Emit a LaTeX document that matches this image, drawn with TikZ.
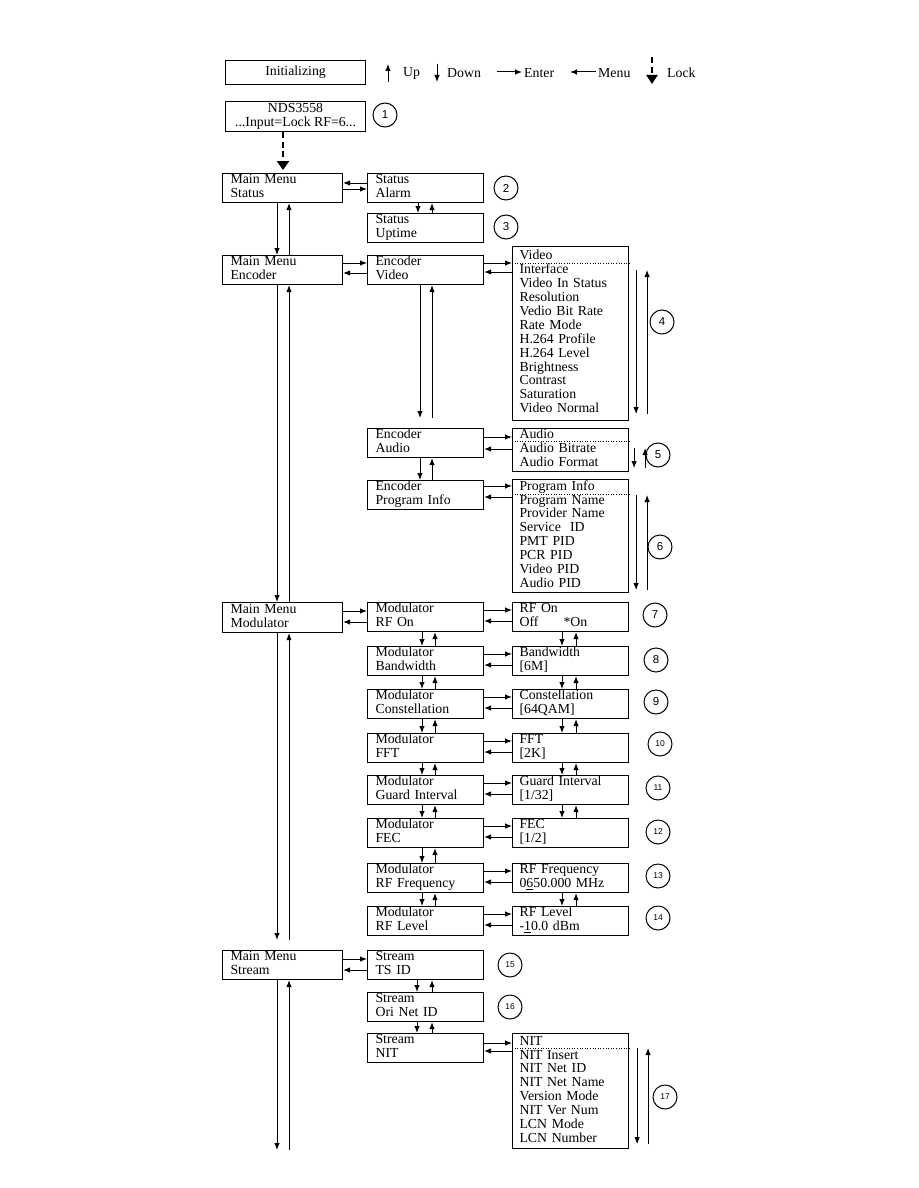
\documentclass[tikz,border=0pt]{standalone}
\usepackage{fontspec}
\setmainfont{Liberation Serif}
\newfontfamily\numfont{Liberation Sans}
\usetikzlibrary{arrows.meta}
\newcommand\bx{\fontsize{13.8}{13.9}\selectfont}
\newcommand\twoln[2]{\strut #1\\\strut #2}
\begin{document}
\begin{tikzpicture}[x=1pt,y=-1pt,
 box/.style={draw, line width=1.1pt, anchor=north west, align=left, inner xsep=8pt, inner ysep=0pt, minimum height=29pt, font=\bx},
 mainbox/.style={box, text width=104pt},
 midbox/.style={box, text width=100pt},
 listbox/.style={draw, line width=1.1pt, anchor=north west, align=left, inner xsep=7pt, inner ysep=0pt, text width=102pt, minimum height=29pt, font=\bx},
 arr/.style={line width=1pt, -{Latex[length=7pt,width=5.5pt]}},
 thickdash/.style={line width=2.8pt, dash pattern=on 6pt off 3.5pt, -{Triangle[length=9pt,width=12pt]}},
 num/.style={circle, draw, line width=1pt, minimum size=24pt, inner sep=0pt, font=\numfont\fontsize{11.5}{11.5}\selectfont},
 numsm/.style={num, font=\numfont\fontsize{8.5}{8.5}\selectfont},
 dots/.style={dotted, line width=0.6pt},
 lbl/.style={anchor=west, inner sep=0pt, font=\bx},
]
\useasboundingbox[fill=white] (0,0) rectangle (918,1188);

% ---------- legend ----------
\node[draw, line width=1.1pt, anchor=north west, minimum width=140pt, minimum height=24pt, inner sep=0pt, font=\bx] (init) at (225,60) {Initializing};
\node[lbl] (tup) at (403,73) {Up};
\node[lbl] (tdown) at (447,73) {Down};
\node[lbl] (tenter) at (524,73) {Enter};
\node[lbl] (tmenu) at (598,73) {Menu};
\node[lbl] (tlock) at (667,73) {Lock};
\coordinate (upA) at (388,82);  \coordinate (upB) at (388,64);
\coordinate (dnA) at (437,64);  \coordinate (dnB) at (437,82);
\coordinate (enA) at (497,72);  \coordinate (enB) at (522,72);
\coordinate (meA) at (596,72);  \coordinate (meB) at (570,72);
\coordinate (lkA) at (652,57);  \coordinate (lkB) at (652,84);
\draw[arr] (upA) -- (upB);
\draw[arr] (dnA) -- (dnB);
\draw[arr] (enA) -- (enB);
\draw[arr] (meA) -- (meB);
\draw[line width=2.6pt, dash pattern=on 6pt off 4pt, -{Triangle[length=9pt,width=11pt]}] (lkA) -- (lkB);

% ---------- start ----------
\node[draw, line width=1.1pt, anchor=north west, minimum width=140pt, minimum height=30pt, inner sep=0pt, align=center, font=\bx] (nds) at (225,101) {\twoln{NDS3558}{...Input=Lock RF=6...}};
\node[num] (c1) at (385,115) {1};

% ---------- status ----------
\node[mainbox] (ms) at (222,173) {\twoln{Main Menu}{Status}};
\node[midbox] (sa) at (367,173) {\twoln{Status}{Alarm}};
\node[midbox] (su) at (367,213) {\twoln{Status}{Uptime}};
\node[num] (c2) at (506,188) {2};
\node[num] (c3) at (506,227) {3};
\draw[thickdash] ([xshift=58pt]nds.south west) -- ([xshift=61pt,yshift=3pt]ms.north west);
\draw[arr] ([yshift=-10pt]sa.north west) -- ([yshift=-10pt]ms.north east);
\draw[arr] ([yshift=-16pt]ms.north east) -- ([yshift=-16pt]sa.north west);
\draw[arr] ([xshift=51pt]sa.south west) -- ([xshift=51pt]su.north west);
\draw[arr] ([xshift=65pt]su.north west) -- ([xshift=65pt]sa.south west);

% ---------- encoder ----------
\node[mainbox] (me) at (222,255) {\twoln{Main Menu}{Encoder}};
\node[midbox] (ev) at (367,255) {\twoln{Encoder}{Video}};
\node[listbox, minimum height=174pt] (lv) at (512,246) {\strut Video\\\strut Interface\\\strut Video In Status\\\strut Resolution\\\strut Vedio Bit Rate\\\strut Rate Mode\\\strut H.264 Profile\\\strut H.264 Level\\\strut Brightness\\\strut Contrast\\\strut Saturation\\\strut Video Normal};
\node[num] (c4) at (662,322) {4};
\draw[arr] ([xshift=55pt]ms.south west) -- ([xshift=55pt]me.north west);
\draw[arr] ([xshift=67pt]me.north west) -- ([xshift=67pt]ms.south west);
\draw[arr] ([yshift=-8pt]me.north east) -- ([yshift=-8pt]ev.north west);
\draw[arr] ([yshift=-18pt]ev.north west) -- ([yshift=-18pt]me.north east);
\draw[arr] ([yshift=-8pt]ev.north east) -- ([yshift=-8pt]ev.north east -| lv.west);
\draw[arr] ([yshift=-17pt]ev.north east -| lv.west) -- ([yshift=-17pt]ev.north east);
\draw[dots] ([yshift=-17pt]lv.north west) -- ([yshift=-17pt]lv.north east);
\draw[arr] ([xshift=7pt,yshift=-24pt]lv.north east) -- ([xshift=7pt,yshift=7pt]lv.south east);
\draw[arr] ([xshift=18pt,yshift=7pt]lv.south east) -- ([xshift=18pt,yshift=-24pt]lv.north east);

\node[midbox] (ea) at (367,428) {\twoln{Encoder}{Audio}};
\node[listbox, minimum height=43pt] (la) at (512,428) {\strut Audio\\\strut Audio Bitrate\\\strut Audio Format};
\node[num] (c5) at (658,455) {5};
\draw[arr] ([xshift=53pt]ev.south west) -- ([xshift=53pt,yshift=10pt]ea.north west);
\draw[arr] ([xshift=65pt,yshift=10pt]ea.north west) -- ([xshift=65pt]ev.south west);
\draw[arr] ([yshift=-9pt]ea.north east) -- ([yshift=-9pt]la.north west);
\draw[arr] ([yshift=-21pt]la.north west) -- ([yshift=-21pt]ea.north east);
\draw[dots] ([yshift=-13pt]la.north west) -- ([yshift=-13pt]la.north east);
\draw[arr] ([xshift=5pt,yshift=-20pt]la.north east) -- ([xshift=5pt,yshift=4pt]la.south east);
\draw[arr] ([xshift=16pt,yshift=4pt]la.south east) -- ([xshift=16pt,yshift=-20pt]la.north east);

\node[midbox] (ep) at (367,480) {\twoln{Encoder}{Program Info}};
\node[listbox, minimum height=113pt] (lp) at (512,479) {\strut Program Info\\\strut Program Name\\\strut Provider Name\\\strut Service\ \ ID\\\strut PMT PID\\\strut PCR PID\\\strut Video PID\\\strut Audio PID};
\node[num] (c6) at (660,547) {6};
\draw[arr] ([xshift=53pt]ea.south west) -- ([xshift=53pt]ep.north west);
\draw[arr] ([xshift=65pt]ep.north west) -- ([xshift=65pt]ea.south west);
\draw[arr] ([yshift=-6pt]ep.north east) -- ([yshift=-6pt]ep.north east -| lp.west);
\draw[arr] ([yshift=-17pt]ep.north east -| lp.west) -- ([yshift=-17pt]ep.north east);
\draw[dots] ([yshift=-15pt]lp.north west) -- ([yshift=-15pt]lp.north east);
\draw[arr] ([xshift=7pt,yshift=-16pt]lp.north east) -- ([xshift=7pt,yshift=3pt]lp.south east);
\draw[arr] ([xshift=18pt,yshift=3pt]lp.south east) -- ([xshift=18pt,yshift=-16pt]lp.north east);

% ---------- modulator ----------
\node[mainbox, minimum height=30pt] (mm) at (222,602) {\twoln{Main Menu}{Modulator}};
\draw[arr] ([xshift=55pt]me.south west) -- ([xshift=55pt]mm.north west);
\draw[arr] ([xshift=67pt]mm.north west) -- ([xshift=67pt]me.south west);

\node[midbox] (m1) at (367,602) {\twoln{Modulator}{RF On}};
\node[midbox] (m2) at (367,646) {\twoln{Modulator}{Bandwidth}};
\node[midbox] (m3) at (367,689) {\twoln{Modulator}{Constellation}};
\node[midbox] (m4) at (367,733) {\twoln{Modulator}{FFT}};
\node[midbox] (m5) at (367,775) {\twoln{Modulator}{Guard Interval}};
\node[midbox] (m6) at (367,818) {\twoln{Modulator}{FEC}};
\node[midbox] (m7) at (367,863) {\twoln{Modulator}{RF Frequency}};
\node[midbox] (m8) at (367,906) {\twoln{Modulator}{RF Level}};

\node[listbox] (r1) at (512,602) {\twoln{RF On}{\rlap{Off}\hspace{44pt}*On}};
\node[listbox] (r2) at (512,646) {\twoln{Bandwidth}{[6M]}};
\node[listbox] (r3) at (512,689) {\twoln{Constellation}{[64QAM]}};
\node[listbox] (r4) at (512,733) {\twoln{FFT}{[2K]}};
\node[listbox] (r5) at (512,775) {\twoln{Guard Interval}{[1/32]}};
\node[listbox] (r6) at (512,818) {\twoln{FEC}{[1/2]}};
\node[listbox] (r7) at (512,863) {\twoln{RF Frequency}{0\underline{6}50.000 MHz}};
\node[listbox] (r8) at (512,906) {\twoln{RF Level}{-\underline{1}0.0 dBm}};

\node[num] (c7) at (655,615) {7};
\node[num] (c8) at (656,660) {8};
\node[num] (c9) at (656,702) {9};
\node[numsm] (c10) at (660,744) {10};
\node[numsm] (c11) at (658,788) {11};
\node[numsm] (c12) at (658,832) {12};
\node[numsm] (c13) at (658,876) {13};
\node[numsm] (c14) at (658,918) {14};

\draw[arr] ([yshift=-9pt]mm.north east) -- ([yshift=-9pt]m1.north west);
\draw[arr] ([yshift=-20pt]m1.north west) -- ([yshift=-20pt]mm.north east);
\foreach \i in {1,...,8}{
  \draw[arr] ([yshift=-8pt]m\i.north east) -- ([yshift=-8pt]r\i.north west);
  \draw[arr] ([yshift=-19pt]r\i.north west) -- ([yshift=-19pt]m\i.north east);
}
\foreach \i/\j in {1/2,2/3,3/4,4/5,5/6,6/7,7/8}{
  \draw[arr] ([xshift=55pt]m\i.south west) -- ([xshift=55pt]m\j.north west);
  \draw[arr] ([xshift=68pt]m\j.north west) -- ([xshift=68pt]m\i.south west);
}
\foreach \i/\j in {1/2,2/3,3/4,4/5,5/6,7/8}{
  \draw[arr] ([xshift=50pt]r\i.south west) -- ([xshift=50pt]r\j.north west);
  \draw[arr] ([xshift=64pt]r\j.north west) -- ([xshift=64pt]r\i.south west);
}

% ---------- stream ----------
\node[mainbox] (mst) at (222,950) {\twoln{Main Menu}{Stream}};
\draw[arr] ([xshift=55pt]mm.south west) -- ([xshift=55pt,yshift=10pt]mst.north west);
\draw[arr] ([xshift=67pt,yshift=10pt]mst.north west) -- ([xshift=67pt]mm.south west);

\node[midbox] (s1) at (367,950) {\twoln{Stream}{TS ID}};
\node[midbox] (s2) at (367,992) {\twoln{Stream}{Ori Net ID}};
\node[midbox] (s3) at (367,1033) {\twoln{Stream}{NIT}};
\node[listbox, minimum height=115pt] (ln) at (512,1033) {\strut NIT\\\strut NIT Insert\\\strut NIT Net ID\\\strut NIT Net Name\\\strut Version Mode\\\strut NIT Ver Num\\\strut LCN Mode\\\strut LCN Number};
\node[numsm] (c15) at (510,965) {15};
\node[numsm] (c16) at (510,1007) {16};
\node[numsm] (c17) at (665,1097) {17};

\draw[arr] ([yshift=-9pt]mst.north east) -- ([yshift=-9pt]s1.north west);
\draw[arr] ([yshift=-20pt]s1.north west) -- ([yshift=-20pt]mst.north east);
\draw[arr] ([xshift=50pt]s1.south west) -- ([xshift=50pt]s2.north west);
\draw[arr] ([xshift=65pt]s2.north west) -- ([xshift=65pt]s1.south west);
\draw[arr] ([xshift=50pt]s2.south west) -- ([xshift=50pt]s3.north west);
\draw[arr] ([xshift=65pt]s3.north west) -- ([xshift=65pt]s2.south west);
\draw[arr] ([yshift=-10pt]s3.north east) -- ([yshift=-10pt]ln.north west);
\draw[arr] ([yshift=-18pt]ln.north west) -- ([yshift=-18pt]s3.north east);
\draw[dots] ([yshift=-15pt]ln.north west) -- ([yshift=-15pt]ln.north east);
\draw[arr] ([xshift=8pt,yshift=-15pt]ln.north east) -- ([xshift=8pt,yshift=5pt]ln.south east);
\draw[arr] ([xshift=19pt,yshift=5pt]ln.south east) -- ([xshift=19pt,yshift=-15pt]ln.north east);

\coordinate (endD) at (277,1150);
\coordinate (endU) at (289,1150);
\draw[arr] ([xshift=55pt]mst.south west) -- (endD);
\draw[arr] (endU) -- ([xshift=67pt]mst.south west);
\end{tikzpicture}
\end{document}
